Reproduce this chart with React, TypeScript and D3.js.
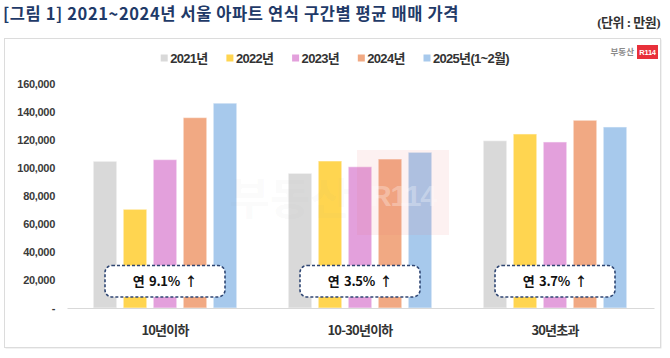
import React, { useRef, useEffect } from 'react';
import * as d3 from 'd3';

const categories = ['10년이하', '10-30년이하', '30년초과'];
const seriesNames = ['2021년', '2022년', '2023년', '2024년', '2025년(1~2월)'];
const seriesColors = ['#d9d9d9', '#ffd550', '#e3a0dc', '#f1a983', '#a7c9ec'];
// rows = series, columns = categories
const values2021 = [104800, 96200, 119500];
const values2022 = [70500, 105000, 124300];
const values2023 = [106000, 100900, 118600];
const values2024 = [136000, 106400, 134100];
const values2025 = [146300, 111200, 129300];
const growthLabels = ['연 9.1% ↑', '연 3.5% ↑', '연 3.7% ↑'];
const yTicks = [0, 20000, 40000, 60000, 80000, 100000, 120000, 140000, 160000];

const App = () => {
    const svgRef = useRef(null);

    useEffect(() => {
        const svg = d3.select(svgRef.current);
        svg.selectAll('*').remove();

        const W = 670, H = 358;
        const left = 67.5, right = 652.5, bottom = 308, top = 84;
        const series = [values2021, values2022, values2023, values2024, values2025];

        svg.append('rect').attr('width', W).attr('height', H).attr('fill', '#fff');

        // title + unit
        svg.append('text')
            .attr('x', 3).attr('y', 19.5)
            .attr('font-family', '"Noto Sans CJK KR", "Noto Sans", sans-serif')
            .attr('font-size', 16.5).attr('font-weight', 'bold')
            .attr('letter-spacing', 0.6)
            .attr('fill', '#1f3a68')
            .text('[그림 1] 2021~2024년 서울 아파트 연식 구간별 평균 매매 가격');

        svg.append('text')
            .attr('x', 660).attr('y', 27).attr('text-anchor', 'end')
            .attr('font-family', '"Liberation Serif", "Noto Sans CJK KR", serif')
            .attr('font-size', 13).attr('font-weight', 'bold')
            .attr('letter-spacing', -0.5)
            .attr('fill', '#333')
            .text('(단위 : 만원)');

        // panel frame
        svg.append('rect')
            .attr('x', 5.5).attr('y', 39.5).attr('width', 656).attr('height', 309)
            .attr('fill', '#e6e6e6');
        svg.append('rect')
            .attr('x', 4.5).attr('y', 38.5).attr('width', 656).attr('height', 309)
            .attr('fill', '#fff').attr('stroke', '#dcdcdc');

        // scales
        const x0 = d3.scaleBand().domain(categories).range([left, right]);
        const groupW = 143.5;
        const x1 = d3.scaleBand().domain(seriesNames).range([0, groupW]).paddingInner(0.217);
        const y = d3.scaleLinear().domain([0, 160000]).range([bottom, top]);
        const off = (x0.bandwidth() - groupW) / 2;

        // y tick labels
        svg.append('g').selectAll('text').data(yTicks).enter().append('text')
            .attr('x', 55).attr('y', d => y(d)).attr('dy', '0.35em')
            .attr('text-anchor', 'end')
            .attr('font-family', '"Liberation Sans", Arial, sans-serif')
            .attr('font-size', 11).attr('font-weight', 'bold')
            .attr('letter-spacing', -0.3)
            .attr('fill', '#3a3a3a')
            .text(d => d === 0 ? '-' : d3.format(',')(d));

        // bars
        series.forEach((vals, si) => {
            svg.append('g').selectAll('rect').data(vals).enter().append('rect')
                .attr('x', (d, i) => x0(categories[i]) + off + x1(seriesNames[si]))
                .attr('y', d => y(d))
                .attr('width', x1.bandwidth())
                .attr('height', d => bottom - y(d))
                .attr('fill', seriesColors[si])
                .attr('stroke', '#ffffff').attr('stroke-opacity', 0.45)
                .attr('stroke-width', 1.2);
        });

        // watermark, semi-transparent over the bars
        const wm = svg.append('g');
        wm.append('text')
            .attr('x', 290).attr('y', 215).attr('text-anchor', 'middle')
            .attr('font-family', '"Noto Sans CJK KR", sans-serif')
            .attr('font-size', 44).attr('font-weight', 'bold')
            .attr('fill', '#999').attr('fill-opacity', 0.05)
            .text('부동산');
        wm.append('rect')
            .attr('x', 357).attr('y', 150).attr('width', 92).attr('height', 85)
            .attr('fill', '#f07878').attr('fill-opacity', 0.1);
        wm.append('text')
            .attr('x', 403).attr('y', 206).attr('text-anchor', 'middle')
            .attr('font-family', '"Liberation Sans", sans-serif')
            .attr('font-size', 30).attr('font-weight', 'bold')
            .attr('letter-spacing', -1)
            .attr('fill', '#fff').attr('fill-opacity', 0.3)
            .text('R114');

        // baseline
        svg.append('line')
            .attr('x1', left).attr('x2', right + 2).attr('y1', bottom + 0.5).attr('y2', bottom + 0.5)
            .attr('stroke', '#d9d9d9').attr('stroke-width', 1.2);

        // category labels
        svg.append('g').selectAll('text').data(categories).enter().append('text')
            .attr('x', d => x0(d) + x0.bandwidth() / 2).attr('y', 330).attr('dy', '0.35em')
            .attr('text-anchor', 'middle')
            .attr('font-family', '"Noto Sans CJK KR", sans-serif')
            .attr('font-size', 13).attr('font-weight', 'bold')
            .attr('letter-spacing', -0.8)
            .attr('fill', '#333')
            .text(d => d);

        // growth callouts
        const boxes = svg.append('g').selectAll('g').data(categories).enter().append('g')
            .attr('transform', d => `translate(${x0(d) + x0.bandwidth() / 2}, 281.5)`);
        boxes.append('rect')
            .attr('x', -60).attr('y', -16).attr('width', 120).attr('height', 31.5)
            .attr('rx', 7)
            .attr('fill', '#fff').attr('stroke', '#2f4673')
            .attr('stroke-width', 1.6).attr('stroke-dasharray', '3,2');
        boxes.append('text')
            .attr('text-anchor', 'middle').attr('dy', '0.35em')
            .attr('font-family', '"Noto Sans CJK KR", sans-serif')
            .attr('font-size', 13).attr('font-weight', 'bold')
            .attr('letter-spacing', -0.3)
            .attr('word-spacing', 2)
            .attr('fill', '#111')
            .text((d, i) => growthLabels[i]);

        // legend
        const legend = svg.append('g').selectAll('g').data(seriesNames).enter().append('g')
            .attr('transform', (d, i) => `translate(${160.7 + i * 65.7}, 58)`);
        legend.append('rect')
            .attr('x', 0).attr('y', -3.5).attr('width', 7).attr('height', 7)
            .attr('fill', (d, i) => seriesColors[i]);
        legend.append('text')
            .attr('x', 9.5).attr('dy', '0.35em')
            .attr('font-family', '"Liberation Sans", "Noto Sans CJK KR", sans-serif')
            .attr('font-size', 13).attr('font-weight', 'bold')
            .attr('letter-spacing', -0.7)
            .attr('fill', '#333')
            .text(d => d);

        // logo
        svg.append('text')
            .attr('x', 634).attr('y', 52).attr('dy', '0.35em').attr('text-anchor', 'end')
            .attr('font-family', '"Noto Sans CJK KR", sans-serif')
            .attr('font-size', 8.5).attr('font-weight', 'bold')
            .attr('fill', '#8a8a8a')
            .text('부동산');
        svg.append('rect')
            .attr('x', 637).attr('y', 45).attr('width', 21).attr('height', 14)
            .attr('fill', '#e8303a');
        svg.append('text')
            .attr('x', 647.5).attr('y', 52).attr('dy', '0.35em').attr('text-anchor', 'middle')
            .attr('font-family', '"Liberation Sans", sans-serif')
            .attr('font-size', 7.5).attr('font-weight', 'bold')
            .attr('letter-spacing', -0.3)
            .attr('fill', '#fff')
            .text('R114');
    }, []);

    return (
        <svg ref={svgRef} width="670" height="358"
            style={{ position: 'absolute', left: 0, top: 0, display: 'block' }} />
    );
};

export default App;
